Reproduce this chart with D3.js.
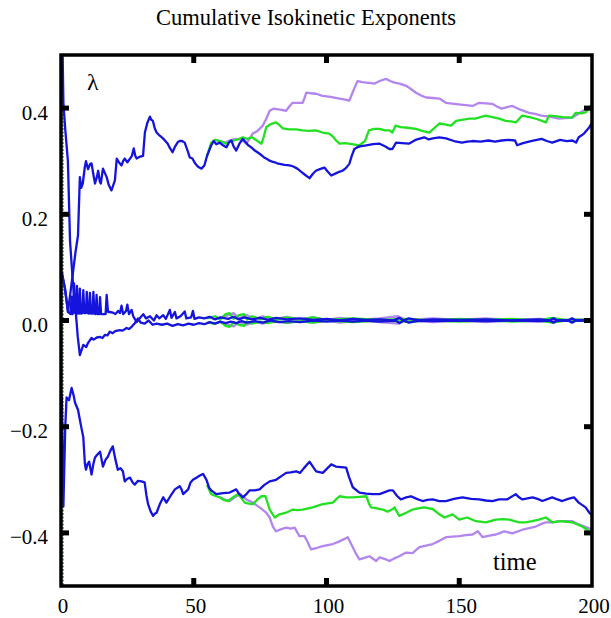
<!DOCTYPE html>
<html>
<head>
<meta charset="utf-8">
<script src="https://cdn.jsdelivr.net/npm/d3@7/dist/d3.min.js"></script>
<style>
  html, body { margin: 0; padding: 0; background: #fff; }
  svg { display: block; font-family: "Liberation Serif", "Times New Roman", serif; }
  .tick text { font-family: "Liberation Serif", "Times New Roman", serif; }
</style>
</head>
<body>
<svg id="chart" width="611" height="618"></svg>
<script>
// Cumulative isokinetic exponents: three runs (blue, green, purple), four exponents each.
const xTicks = [0, 50, 100, 150, 200];
const yTicks = [-0.4, -0.2, 0.0, 0.2, 0.4];

// Initial transient (values far outside the plotted range)
const transient = [[0.5, 0.6], [0.5, -0.6]];

// Blue run
const blueTop = [
  [0.3,0.09],[1.5,0.06],[2.6,0.016],[3.5,0.05],[4.5,0.09],[5.5,0.13],[6.4,0.16],[7.1,0.27],[7.6,0.25],[8.2,0.258],[9.0,0.29],[9.4,0.30],
  [10.2,0.285],[11.0,0.295],[11.5,0.296],[12.2,0.275],[12.8,0.258],[13.5,0.27],[14.0,0.282],[14.6,0.262],[15.0,0.258],[15.8,0.286],
  [16.5,0.278],[17.2,0.27],[18.0,0.255],[19.0,0.245],[19.7,0.255],[20.3,0.264],[21.0,0.305],[21.8,0.298],[22.8,0.292],[23.4,0.30],
  [24.0,0.305],[25.0,0.298],[26.0,0.305],[26.7,0.31],[27.4,0.324],[28.0,0.31],[28.5,0.305],[29.5,0.308],[30.9,0.31],[31.6,0.354],
  [32.5,0.372],[33.5,0.384],[34.0,0.378],[34.6,0.376],[35.3,0.362],[36.0,0.354],[37.2,0.348],[38.4,0.343],[39.3,0.338],[40.2,0.333],
  [41.0,0.325],[42.0,0.317],[43.0,0.328],[44.0,0.336],[44.7,0.338],[45.6,0.338],[46.6,0.335],[47.8,0.318],[48.5,0.307],[49.5,0.305],
  [50.5,0.296],[51.5,0.29],[52.9,0.286],[54.0,0.292],[55.0,0.31],[56.6,0.33],[57.5,0.338],[58.5,0.332],[59.8,0.335],[61.0,0.33],
  [62.3,0.326],[63.2,0.335],[64.2,0.339],[65.0,0.328],[66.0,0.32],[67.2,0.333],[68.5,0.342],[69.5,0.336],[70.5,0.33],[71.7,0.326],
  [73.0,0.32],[74.8,0.314],[75.8,0.31],[76.5,0.307],[77.6,0.304],[78.6,0.301],[79.6,0.299],[80.5,0.298],[81.4,0.296],[82.3,0.295],
  [84.2,0.293],[86.1,0.292],[87.5,0.29],[89.0,0.286],[90.5,0.28],[92.0,0.274],[93.6,0.268],[94.8,0.276],[96.0,0.282],[97.5,0.285],
  [99.2,0.288],[100.5,0.28],[101.8,0.273],[103.5,0.277],[104.8,0.28],[106.0,0.282],[107.3,0.287],[108.6,0.295],[109.5,0.31],
  [110.5,0.323],[111.5,0.326],[112.5,0.328],[115.0,0.33],[117.5,0.332],[120.0,0.333],[122.0,0.328],[123.7,0.323],[124.8,0.323],
  [126.2,0.335],[128.5,0.334],[131.0,0.333],[133.5,0.34],[136.8,0.345],[138.5,0.341],[140.0,0.343],[142.5,0.345],[145.0,0.343],
  [148.0,0.338],[151.0,0.335],[153.0,0.337],[155.0,0.338],[158.0,0.337],[161.0,0.339],[163.5,0.337],[166.0,0.339],[168.5,0.34],
  [171.0,0.339],[171.8,0.33],[174.0,0.334],[177.0,0.338],[181.0,0.342],[183.0,0.338],[185.0,0.335],[188.0,0.34],[190.5,0.338],
  [192.6,0.339],[194.0,0.335],[195.0,0.345],[197.0,0.352],[199.0,0.364],[200,0.372]
];
const blueMidA = [
  [0.3,0.09],[1.5,0.06],[2.7,0.016],[3.6,0.012],[4.0,0.045],[4.3,0.012],[4.6,0.015],[4.9,0.07],[5.3,0.014],[5.7,0.014],[6.0,0.065],
  [6.4,0.013],[6.8,0.013],[7.1,0.06],[7.5,0.013],[8.1,0.014],[8.4,0.057],[8.8,0.014],[9.4,0.014],[9.7,0.054],[10.1,0.014],[10.6,0.013],
  [10.9,0.052],[11.3,0.013],[11.9,0.013],[12.2,0.054],[12.6,0.013],[13.1,0.012],[13.4,0.048],[13.8,0.012],[14.4,0.012],[14.7,0.044],
  [15.1,0.012],[16.8,0.012],[17.2,0.048],[17.7,0.016],[18.4,0.016],[19.5,0.015],[20.5,0.012],[21.5,0.018],[22.2,0.014],[22.8,0.028],
  [23.4,0.012],[24.5,0.018],[25.0,0.03],[25.6,0.012],[26.6,0.02],[27.2,0.008],[28.5,-0.003],[30.0,0.006],[31.0,0.012],[32.0,0.004],
  [33.5,0.008],[35.0,0.0],[36.0,0.01],[37.0,0.004],[38.5,0.01],[39.5,0.003],[41.0,0.02],[41.6,0.005],[42.9,0.016],[43.5,0.004],
  [45.0,0.008],[46.6,0.017],[47.2,0.004],[49.0,0.006],[49.7,0.018],[50.3,0.003],[52.0,0.006],[54.0,0.004],[56.0,0.007],[58.0,0.002],
  [60.0,0.006],[63.0,0.003],[65.0,0.007],[67.0,0.002],[69.0,0.006],[72.0,0.002],[75.0,0.005],[78.0,0.001],[81.0,0.005],[85.0,0.002],
  [90.0,0.004],[95.0,0.001],[100.0,0.003],[105.0,0.0],[110.0,0.003],[115.0,0.001],[120.0,0.002],[125.0,0.0],[127.5,0.005],[129.0,0.0],
  [131.0,0.004],[135.0,0.0],[140.0,0.002],[150.0,0.001],[160.0,0.002],[170.0,0.0],[180.0,0.002],[184.0,0.0],[185.5,0.004],[187.0,0.0],
  [191.0,0.0],[192.5,0.004],[194.0,0.0],[200,0.001]
];
const blueMidB = [
  [0.3,0.6],[0.9,0.41],[1.6,0.36],[2.6,0.30],[3.4,0.15],[4.5,0.07],[5.5,0.02],[6.3,-0.03],[7.1,-0.065],[7.8,-0.055],[8.4,-0.046],
  [9.5,-0.05],[10.2,-0.042],[11.5,-0.033],[12.3,-0.036],[13.5,-0.032],[14.7,-0.031],[15.6,-0.033],[16.6,-0.027],[17.5,-0.028],
  [18.4,-0.021],[19.5,-0.024],[20.4,-0.02],[22.2,-0.018],[23.2,-0.019],[24.7,-0.014],[25.6,-0.016],[26.6,-0.012],[27.8,-0.005],
  [29.0,0.004],[30.0,-0.004],[31.5,-0.006],[33.0,0.0],[34.5,-0.008],[36.0,-0.006],[38.0,-0.008],[40.0,-0.006],[42.0,-0.01],
  [44.0,-0.007],[46.0,-0.009],[48.0,-0.006],[50.0,-0.008],[52.0,-0.005],[54.0,-0.007],[56.0,-0.003],[58.0,-0.006],[60.0,-0.002],
  [62.0,-0.005],[64.0,-0.002],[66.0,-0.005],[68.0,-0.001],[70.0,-0.004],[73.0,-0.001],[76.0,-0.004],[79.0,0.0],[82.0,-0.003],
  [86.0,-0.001],[90.0,-0.003],[95.0,0.0],[100.0,-0.002],[105.0,0.0],[110.0,-0.002],[115.0,0.0],[120.0,-0.002],[126.0,0.0],
  [127.5,-0.005],[129.0,0.0],[131.0,-0.004],[135.0,0.0],[140.0,-0.001],[150.0,0.0],[160.0,-0.001],[170.0,0.0],[180.0,-0.001],
  [184.0,0.0],[185.5,-0.004],[187.0,0.0],[191.0,0.0],[192.5,-0.004],[194.0,0.0],[200,0.0]
];
const blueBot = [
  [0.3,-0.14],[0.9,-0.35],[1.6,-0.2],[2.1,-0.145],[3.0,-0.15],[4.0,-0.127],[4.7,-0.14],[5.3,-0.155],[6.4,-0.168],[7.1,-0.187],
  [7.8,-0.205],[8.4,-0.22],[9.0,-0.27],[9.4,-0.281],[10.0,-0.27],[10.6,-0.266],[11.5,-0.29],[12.2,-0.27],[12.8,-0.258],[13.8,-0.252],
  [14.7,-0.247],[15.3,-0.262],[15.8,-0.275],[16.8,-0.262],[17.7,-0.256],[18.6,-0.245],[19.5,-0.237],[20.5,-0.262],[21.4,-0.281],
  [22.4,-0.278],[23.3,-0.284],[24.0,-0.303],[25.0,-0.298],[26.0,-0.296],[27.0,-0.305],[27.8,-0.309],[29.0,-0.302],[30.3,-0.303],
  [31.5,-0.305],[32.2,-0.33],[32.8,-0.346],[33.8,-0.36],[34.7,-0.368],[35.3,-0.364],[36.0,-0.362],[37.3,-0.345],[38.5,-0.333],
  [39.7,-0.343],[41.3,-0.33],[42.9,-0.318],[44.7,-0.312],[45.4,-0.318],[46.0,-0.327],[47.9,-0.318],[48.8,-0.305],[49.7,-0.3],
  [51.0,-0.296],[52.3,-0.292],[53.5,-0.289],[54.8,-0.3],[55.8,-0.315],[56.6,-0.32],[58.5,-0.327],[61.0,-0.325],[63.5,-0.324],
  [66.0,-0.318],[67.0,-0.326],[68.5,-0.333],[70.0,-0.326],[71.0,-0.32],[73.0,-0.32],[74.8,-0.318],[76.5,-0.31],[78.6,-0.303],
  [81.0,-0.3],[83.0,-0.293],[84.8,-0.287],[86.5,-0.286],[88.6,-0.284],[90.0,-0.287],[91.5,-0.278],[93.6,-0.266],[95.0,-0.276],
  [96.1,-0.284],[98.6,-0.287],[100.2,-0.279],[101.8,-0.271],[103.5,-0.275],[105.5,-0.276],[107.4,-0.277],[108.5,-0.295],[109.9,-0.314],
  [112.4,-0.324],[115.0,-0.326],[117.4,-0.327],[120.0,-0.327],[123.7,-0.32],[125.0,-0.32],[126.5,-0.33],[128.0,-0.337],[130.0,-0.333],
  [131.8,-0.331],[134.0,-0.336],[136.2,-0.34],[138.0,-0.338],[140.0,-0.337],[142.5,-0.34],[145.0,-0.34],[148.0,-0.336],[151.2,-0.333],
  [154.5,-0.336],[157.5,-0.337],[160.0,-0.339],[162.5,-0.34],[165.0,-0.337],[168.0,-0.337],[171.3,-0.327],[172.5,-0.333],[173.8,-0.337],
  [177.6,-0.333],[179.5,-0.336],[181.3,-0.34],[185.0,-0.333],[187.0,-0.337],[188.8,-0.34],[191.0,-0.336],[193.2,-0.333],[195.0,-0.343],
  [197.6,-0.352],[199.0,-0.362],[200,-0.367]
];

// Green run (coincides with blue until it separates)
const greenTop = [
  [55.0,0.31],[56.6,0.335],[58.0,0.34],[60.0,0.338],[62.0,0.333],[64.0,0.338],[66.0,0.34],[68.5,0.345],[70.0,0.342],[72.0,0.345],
  [74.0,0.338],[75.5,0.333],[76.3,0.345],[77.3,0.364],[79.0,0.37],[81.0,0.373],[82.3,0.368],[83.5,0.362],[86.0,0.36],[88.5,0.36],
  [91.0,0.358],[93.5,0.357],[96.0,0.358],[98.5,0.354],[101.0,0.352],[102.5,0.346],[103.6,0.339],[104.9,0.333],[107.0,0.334],
  [109.5,0.332],[112.4,0.33],[114.5,0.338],[116.0,0.358],[118.0,0.361],[120.0,0.361],[122.0,0.358],[123.7,0.358],[124.8,0.354],
  [126.0,0.367],[128.0,0.364],[130.5,0.363],[133.7,0.361],[136.0,0.357],[138.7,0.354],[140.5,0.362],[142.5,0.371],[145.0,0.369],
  [146.9,0.367],[148.8,0.376],[151.0,0.378],[153.8,0.38],[156.0,0.38],[158.0,0.383],[160.0,0.386],[162.5,0.383],[165.0,0.38],
  [167.5,0.376],[169.5,0.375],[171.3,0.373],[173.7,0.386],[176.5,0.383],[179.5,0.379],[182.6,0.373],[183.8,0.386],[186.0,0.385],
  [189.0,0.383],[192.5,0.382],[193.8,0.391],[196.0,0.39],[197.6,0.392],[199.0,0.40],[200,0.408]
];
const greenMidA = [
  [55,0.004],[58,0.008],[60,0.002],[62,0.012],[63.5,0.014],[65,0.003],[67,0.01],[69,0.012],[70,0.002],[72,0.008],[75,0.003],
  [78,0.007],[81,0.002],[85,0.006],[90,0.002],[95,0.006],[100,0.001],[110,0.004],[120,0.001],[130,0.003],[140,0.0],[150,0.003],
  [160,0.001],[170,0.003],[180,0.0],[185,0.005],[190,0.001],[200,0.002]
];
const greenMidB = [
  [55,-0.004],[58,-0.006],[60,-0.002],[62,-0.01],[63.5,-0.012],[65,-0.003],[67,-0.008],[69,-0.01],[70,-0.002],[72,-0.006],[75,-0.002],
  [78,-0.005],[81,-0.001],[85,-0.004],[90,-0.001],[95,-0.004],[100,0.0],[110,-0.003],[120,0.0],[130,-0.002],[140,0.0],[150,-0.002],
  [160,0.0],[170,-0.002],[180,0.0],[185,-0.004],[190,0.0],[200,-0.001]
];
const greenBot = [
  [55.0,-0.31],[56.6,-0.327],[58.0,-0.33],[59.8,-0.333],[61.3,-0.338],[62.9,-0.34],[64.8,-0.333],[66.7,-0.327],[68.0,-0.335],
  [69.2,-0.343],[70.8,-0.345],[72.3,-0.346],[73.8,-0.338],[75.5,-0.331],[77.0,-0.331],[78.6,-0.356],[80.5,-0.371],[82.3,-0.365],
  [84.8,-0.362],[87.3,-0.356],[89.0,-0.357],[91.0,-0.356],[94.8,-0.352],[96.5,-0.349],[98.6,-0.346],[102.4,-0.343],[103.8,-0.336],
  [104.9,-0.331],[107.5,-0.333],[109.9,-0.333],[112.5,-0.332],[115.0,-0.331],[116.0,-0.345],[116.8,-0.352],[119.0,-0.354],
  [121.2,-0.356],[123.0,-0.36],[125.0,-0.355],[125.6,-0.352],[127.4,-0.368],[130.0,-0.362],[132.4,-0.356],[134.5,-0.354],
  [136.8,-0.352],[140.0,-0.355],[142.5,-0.365],[144.4,-0.371],[147.5,-0.365],[150.0,-0.375],[153.0,-0.371],[156.3,-0.378],
  [160.0,-0.38],[163.8,-0.375],[166.5,-0.374],[168.8,-0.375],[172.6,-0.38],[175.0,-0.38],[177.5,-0.378],[180.0,-0.375],
  [182.6,-0.371],[185.0,-0.38],[188.2,-0.378],[190.5,-0.379],[192.6,-0.38],[196.3,-0.388],[198.2,-0.394],[199.0,-0.4],[200,-0.403]
];

// Purple run
const purpleTop = [
  [58.0,0.34],[60.0,0.338],[62.0,0.335],[63.5,0.339],[66.0,0.342],[68.0,0.34],[69.8,0.333],[71.0,0.342],[72.2,0.352],[74.0,0.357],
  [76.0,0.367],[77.3,0.38],[78.6,0.395],[80.0,0.399],[82.5,0.397],[84.8,0.395],[86.0,0.403],[87.2,0.41],[89.0,0.41],[91.0,0.41],
  [91.8,0.42],[92.4,0.429],[94.0,0.428],[96.1,0.427],[98.5,0.423],[101.5,0.421],[104.9,0.418],[107.0,0.416],[108.6,0.414],
  [109.8,0.429],[110.7,0.44],[111.7,0.451],[113.5,0.449],[115.0,0.448],[117.0,0.447],[118.0,0.446],[120.0,0.451],[122.4,0.455],
  [124.0,0.451],[125.6,0.448],[127.5,0.446],[130.0,0.442],[131.8,0.436],[133.7,0.429],[135.5,0.424],[137.5,0.42],[140.0,0.419],
  [142.5,0.418],[145.0,0.41],[148.0,0.408],[151.5,0.406],[155.0,0.404],[157.5,0.41],[160.0,0.409],[162.4,0.408],[164.2,0.403],
  [166.0,0.399],[168.0,0.402],[170.0,0.404],[173.0,0.397],[176.3,0.391],[178.5,0.389],[181.0,0.386],[184.0,0.384],[187.6,0.38],
  [190.0,0.381],[192.5,0.382],[195.0,0.39],[198.0,0.399],[200,0.403]
];
const purpleMidA = [
  [60,0.005],[63,0.01],[65,0.014],[67,0.004],[70,0.01],[73,0.003],[76,0.008],[80,0.002],[85,0.007],[90,0.002],[95,0.006],
  [100,0.001],[105,0.005],[112,0.001],[120,0.004],[127,0.008],[130,0.001],[140,0.004],[150,0.001],[160,0.004],[170,0.001],
  [180,0.003],[190,0.001],[200,0.002]
];
const purpleMidB = [
  [60,-0.004],[63,-0.008],[65,-0.011],[67,-0.003],[70,-0.008],[73,-0.002],[76,-0.006],[80,-0.001],[85,-0.005],[90,-0.001],
  [95,-0.004],[100,0.0],[105,-0.004],[112,0.0],[120,-0.003],[127,-0.006],[130,0.0],[140,-0.003],[150,0.0],[160,-0.003],
  [170,0.0],[180,-0.002],[190,0.0],[200,-0.001]
];
const purpleBot = [
  [60.0,-0.333],[62.0,-0.338],[63.5,-0.34],[65.5,-0.333],[67.5,-0.327],[69.8,-0.337],[72.3,-0.343],[74.8,-0.352],[77.3,-0.362],
  [78.6,-0.371],[79.8,-0.388],[81.0,-0.397],[83.0,-0.393],[84.8,-0.39],[86.5,-0.392],[88.0,-0.39],[89.8,-0.406],[91.7,-0.406],
  [93.0,-0.418],[93.6,-0.425],[94.2,-0.431],[96.5,-0.428],[98.6,-0.425],[102.4,-0.421],[104.9,-0.416],[108.0,-0.408],[109.9,-0.427],
  [111.2,-0.44],[112.4,-0.45],[114.3,-0.447],[116.2,-0.444],[118.7,-0.453],[120.0,-0.446],[122.4,-0.45],[123.7,-0.453],[125.5,-0.448],
  [127.4,-0.444],[130.0,-0.437],[132.4,-0.438],[135.0,-0.427],[137.5,-0.424],[140.0,-0.421],[142.5,-0.415],[145.0,-0.408],
  [147.5,-0.407],[150.0,-0.406],[152.5,-0.404],[155.0,-0.403],[157.0,-0.397],[158.8,-0.408],[161.3,-0.405],[163.8,-0.403],
  [165.5,-0.4],[167.0,-0.397],[170.0,-0.401],[173.8,-0.394],[176.3,-0.391],[178.8,-0.388],[181.0,-0.383],[182.6,-0.38],[185.0,-0.38],
  [187.6,-0.378],[190.0,-0.378],[192.6,-0.378],[195.0,-0.384],[198.2,-0.39],[200,-0.394]
];

const runs = [
  { color: "#b385ef", series: [purpleTop, purpleMidA, purpleMidB, purpleBot] },
  { color: "#22e022", series: [greenTop, greenMidA, greenMidB, greenBot] },
  { color: "#1414dc", series: [blueTop, blueMidA, blueMidB, blueBot] }
];

const svg = d3.select("#chart");
const frame = { left: 61, right: 592, top: 55, bottom: 586 };
const serif = '"Liberation Serif", "Times New Roman", serif';
const tickLen = 8;

const x = d3.scaleLinear().domain([0, 200]).range([frame.left, frame.right]);
const y = d3.scaleLinear().domain([-0.5, 0.5]).range([frame.bottom, frame.top]);

svg.append("defs").append("clipPath").attr("id", "plotClip")
  .append("rect").attr("x", frame.left).attr("y", frame.top)
  .attr("width", frame.right - frame.left).attr("height", frame.bottom - frame.top);

const line = d3.line().x(d => x(d[0])).y(d => y(d[1]));
const plot = svg.append("g").attr("clip-path", "url(#plotClip)");

plot.append("path").datum(transient)
  .attr("d", line).attr("fill", "none")
  .attr("stroke", "#3a9f9f").attr("stroke-width", 3)
  .attr("stroke-dasharray", "2,1.5");

runs.forEach(run => {
  run.series.forEach(s => {
    plot.append("path").datum(s)
      .attr("d", line).attr("fill", "none")
      .attr("stroke", run.color).attr("stroke-width", 2.3)
      .attr("stroke-linejoin", "round");
  });
});

// Tick labels from d3 axes (tick marks drawn separately below)
function styleAxis(g) {
  g.attr("font-family", serif).attr("font-size", 21);
  g.select(".domain").remove();
  g.selectAll(".tick line").remove();
  g.selectAll(".tick text").attr("fill", "#000");
}

svg.append("g").attr("transform", `translate(0,${frame.bottom})`)
  .call(d3.axisBottom(x).tickValues(xTicks).tickSize(0).tickFormat(d3.format("d")))
  .call(styleAxis)
  .call(g => g.selectAll(".tick text").attr("y", 27).attr("dy", 0).attr("dx", 1.5));

svg.append("g").attr("transform", `translate(${frame.left},0)`)
  .call(d3.axisLeft(y).tickValues(yTicks).tickSize(0).tickFormat(d3.format(".1f")))
  .call(styleAxis)
  .call(g => g.selectAll(".tick text").attr("x", -13).attr("dy", 0).attr("y", 11));

// Inward tick marks on all four sides
const ticks = svg.append("g").attr("stroke", "#000").attr("stroke-width", 5);
const innerX = xTicks.slice(1, -1);
ticks.append("g").selectAll("line").data(innerX).join("line")
  .attr("x1", d => x(d)).attr("x2", d => x(d))
  .attr("y1", frame.bottom).attr("y2", frame.bottom - tickLen);
ticks.append("g").selectAll("line").data(innerX).join("line")
  .attr("x1", d => x(d)).attr("x2", d => x(d))
  .attr("y1", frame.top).attr("y2", frame.top + tickLen);
ticks.append("g").selectAll("line").data(yTicks).join("line")
  .attr("y1", d => y(d)).attr("y2", d => y(d))
  .attr("x1", frame.left).attr("x2", frame.left + tickLen);
ticks.append("g").selectAll("line").data(yTicks).join("line")
  .attr("y1", d => y(d)).attr("y2", d => y(d))
  .attr("x1", frame.right).attr("x2", frame.right - tickLen);

svg.append("rect")
  .attr("x", frame.left).attr("y", frame.top)
  .attr("width", frame.right - frame.left).attr("height", frame.bottom - frame.top)
  .attr("fill", "none").attr("stroke", "#000").attr("stroke-width", 3.5);

// Title and axis captions
svg.append("text").attr("x", 306).attr("y", 25)
  .attr("text-anchor", "middle").attr("font-family", serif).style("font-size", "22.5px")
  .text("Cumulative Isokinetic Exponents");

svg.append("text").attr("x", 87).attr("y", 90)
  .attr("font-family", serif).style("font-size", "24px").text("λ");

svg.append("text").attr("x", 493).attr("y", 570)
  .attr("font-family", serif).style("font-size", "24.5px").text("time");
</script>
</body>
</html>
